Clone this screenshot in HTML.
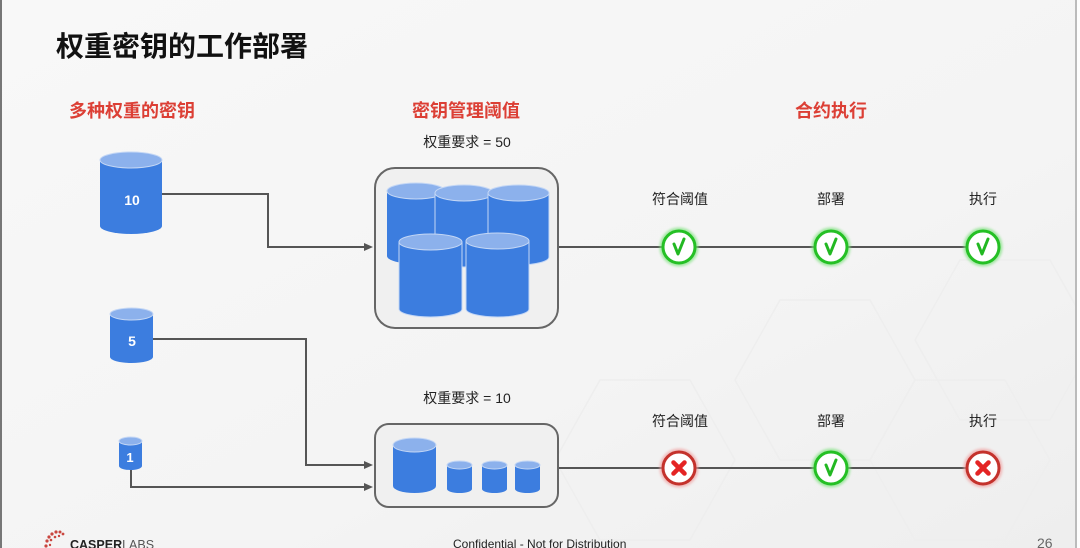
<!DOCTYPE html>
<html>
<head>
<meta charset="utf-8">
<style>
  html,body{margin:0;padding:0;}
  body{width:1080px;height:548px;overflow:hidden;background:#f5f5f5;}
  svg{display:block;}
  .cjk{font-family:"Liberation Sans","Noto Sans CJK SC",sans-serif;}
</style>
</head>
<body>
<svg width="1080" height="548" viewBox="0 0 1080 548" xmlns="http://www.w3.org/2000/svg">
  <defs>
    <linearGradient id="bg" x1="0" y1="0" x2="1" y2="1">
      <stop offset="0" stop-color="#f8f8f8"/>
      <stop offset="0.6" stop-color="#f4f4f4"/>
      <stop offset="1" stop-color="#eeeeee"/>
    </linearGradient>
    <filter id="glowG" x="-50%" y="-50%" width="200%" height="200%">
      <feGaussianBlur stdDeviation="1.2"/>
    </filter>
  </defs>
  <rect x="0" y="0" width="1080" height="548" fill="url(#bg)"/>
  <!-- faint hexagons -->
  <g fill="none" stroke="#eeeeee" stroke-width="1.5">
    <polygon points="780,300 870,300 915,380 870,460 780,460 735,380"/>
    <polygon points="915,380 1005,380 1050,460 1005,540 915,540 870,460"/>
    <polygon points="600,380 690,380 735,460 690,540 600,540 555,460"/>
    <polygon points="960,260 1050,260 1095,340 1050,420 960,420 915,340"/>
  </g>
  <!-- edges -->
  <rect x="0" y="0" width="2" height="548" fill="#777"/>
  <rect x="1075" y="0" width="2" height="548" fill="#bbb"/>
  <rect x="1077" y="0" width="3" height="548" fill="#fdfdfd"/>

  <!-- Title -->
  <text x="56" y="56" class="cjk" font-size="28" font-weight="bold" fill="#111">权重密钥的工作部署</text>

  <!-- Headings -->
  <text x="69" y="117" class="cjk" font-size="18" font-weight="bold" fill="#dc3f35">多种权重的密钥</text>
  <text x="466" y="117" class="cjk" font-size="18" font-weight="bold" fill="#dc3f35" text-anchor="middle">密钥管理阈值</text>
  <text x="831" y="117" class="cjk" font-size="18" font-weight="bold" fill="#dc3f35" text-anchor="middle">合约执行</text>

  <text x="467" y="147" class="cjk" font-size="14" fill="#222" text-anchor="middle">权重要求 = 50</text>
  <text x="467" y="403" class="cjk" font-size="14" fill="#222" text-anchor="middle">权重要求 = 10</text>

  <!-- Connectors -->
  <g fill="none" stroke="#555" stroke-width="2">
    <polyline points="162,194 268,194 268,247 366,247"/>
    <polyline points="153,339 306,339 306,465 366,465"/>
    <polyline points="131,470 131,487 366,487"/>
    <line x1="558" y1="247" x2="983" y2="247"/>
    <line x1="558" y1="468" x2="983" y2="468"/>
  </g>
  <g fill="#555">
    <polygon points="373,247 364,243 364,251"/>
    <polygon points="373,465 364,461 364,469"/>
    <polygon points="373,487 364,483 364,491"/>
  </g>

  <!-- Boxes -->
  <rect x="375" y="168" width="183" height="160" rx="20" ry="20" fill="#f0f0f0" stroke="#666" stroke-width="2"/>
  <rect x="375" y="424" width="183" height="83" rx="14" ry="14" fill="#f0f0f0" stroke="#666" stroke-width="2"/>

  <!-- Cylinders -->
  <g stroke="#c4d7f5" stroke-width="1">
    <path d="M100,160 L100,226 A31,8 0 0 0 162,226 L162,160 Z" fill="#3c7ddf" stroke="none"/>
    <ellipse cx="131" cy="160" rx="31" ry="8" fill="#8cb1ec"/>
    <path d="M110,314 L110,357 A21.5,6 0 0 0 153,357 L153,314 Z" fill="#3c7ddf" stroke="none"/>
    <ellipse cx="131.5" cy="314" rx="21.5" ry="6" fill="#8cb1ec"/>
    <path d="M119,441 L119,466 A11.5,4 0 0 0 142,466 L142,441 Z" fill="#3c7ddf" stroke="none"/>
    <ellipse cx="130.5" cy="441" rx="11.5" ry="4" fill="#8cb1ec"/>

    <path d="M387,191 L387,256 A29,8 0 0 0 445,256 L445,191 Z" fill="#3c7ddf" stroke="none"/>
    <ellipse cx="416" cy="191" rx="29" ry="8" fill="#8cb1ec"/>
    <path d="M435,193 L435,259 A29,8 0 0 0 493,259 L493,193 Z" fill="#3c7ddf" stroke="#c4d7f5"/>
    <ellipse cx="464" cy="193" rx="29" ry="8" fill="#8cb1ec"/>
    <path d="M488,193 L488,257 A30.5,8 0 0 0 549,257 L549,193 Z" fill="#3c7ddf" stroke="#c4d7f5"/>
    <ellipse cx="518.5" cy="193" rx="30.5" ry="8" fill="#8cb1ec"/>
    <path d="M399,242 L399,309 A31.5,8 0 0 0 462,309 L462,242 Z" fill="#3c7ddf" stroke="#c4d7f5"/>
    <ellipse cx="430.5" cy="242" rx="31.5" ry="8" fill="#8cb1ec"/>
    <path d="M466,241 L466,309 A31.5,8 0 0 0 529,309 L529,241 Z" fill="#3c7ddf" stroke="#c4d7f5"/>
    <ellipse cx="497.5" cy="241" rx="31.5" ry="8" fill="#8cb1ec"/>

    <path d="M393,445 L393,486 A21.5,7 0 0 0 436,486 L436,445 Z" fill="#3c7ddf" stroke="none"/>
    <ellipse cx="414.5" cy="445" rx="21.5" ry="7" fill="#8cb1ec"/>
    <path d="M447,465 L447,489 A12.5,4 0 0 0 472,489 L472,465 Z" fill="#3c7ddf" stroke="none"/>
    <ellipse cx="459.5" cy="465" rx="12.5" ry="4" fill="#8cb1ec"/>
    <path d="M482,465 L482,489 A12.5,4 0 0 0 507,489 L507,465 Z" fill="#3c7ddf" stroke="none"/>
    <ellipse cx="494.5" cy="465" rx="12.5" ry="4" fill="#8cb1ec"/>
    <path d="M515,465 L515,489 A12.5,4 0 0 0 540,489 L540,465 Z" fill="#3c7ddf" stroke="none"/>
    <ellipse cx="527.5" cy="465" rx="12.5" ry="4" fill="#8cb1ec"/>
  </g>
  <g font-family="Liberation Sans, sans-serif" font-weight="bold" fill="#fff" text-anchor="middle">
    <text x="132" y="205" font-size="14">10</text>
    <text x="132" y="346" font-size="14">5</text>
    <text x="130" y="462" font-size="13">1</text>
  </g>

  <!-- Step labels -->
  <g class="cjk" font-size="14" fill="#222" text-anchor="middle">
    <text x="680" y="204">符合阈值</text>
    <text x="831" y="204">部署</text>
    <text x="983" y="204">执行</text>
    <text x="680" y="426">符合阈值</text>
    <text x="831" y="426">部署</text>
    <text x="983" y="426">执行</text>
  </g>

  <!-- Status circles -->
  <g>
    <g transform="translate(679,247)">
      <circle r="17" fill="none" stroke="#7fe27f" stroke-width="5" filter="url(#glowG)" opacity="0.7"/>
      <circle r="16" fill="#fff" stroke="#25c025" stroke-width="3"/>
      <path d="M-5,-3 L-1,7 L5,-8" fill="none" stroke="#22b822" stroke-width="3" stroke-linecap="round" stroke-linejoin="round"/>
    </g>
    <g transform="translate(831,247)">
      <circle r="17" fill="none" stroke="#7fe27f" stroke-width="5" filter="url(#glowG)" opacity="0.7"/>
      <circle r="16" fill="#fff" stroke="#25c025" stroke-width="3"/>
      <path d="M-5,-3 L-1,7 L5,-8" fill="none" stroke="#22b822" stroke-width="3" stroke-linecap="round" stroke-linejoin="round"/>
    </g>
    <g transform="translate(983,247)">
      <circle r="17" fill="none" stroke="#7fe27f" stroke-width="5" filter="url(#glowG)" opacity="0.7"/>
      <circle r="16" fill="#fff" stroke="#25c025" stroke-width="3"/>
      <path d="M-5,-3 L-1,7 L5,-8" fill="none" stroke="#22b822" stroke-width="3" stroke-linecap="round" stroke-linejoin="round"/>
    </g>
    <g transform="translate(831,468)">
      <circle r="17" fill="none" stroke="#7fe27f" stroke-width="5" filter="url(#glowG)" opacity="0.7"/>
      <circle r="16" fill="#fff" stroke="#25c025" stroke-width="3"/>
      <path d="M-5,-3 L-1,7 L5,-8" fill="none" stroke="#22b822" stroke-width="3" stroke-linecap="round" stroke-linejoin="round"/>
    </g>
    <g transform="translate(679,468)">
      <circle r="17" fill="none" stroke="#f0a0a0" stroke-width="5" filter="url(#glowG)" opacity="0.7"/>
      <circle r="16" fill="#fff" stroke="#c4322c" stroke-width="3"/>
      <path d="M-5.5,-5.5 L5.5,5.5 M5.5,-5.5 L-5.5,5.5" fill="none" stroke="#e42424" stroke-width="4.5" stroke-linecap="round"/>
    </g>
    <g transform="translate(983,468)">
      <circle r="17" fill="none" stroke="#f0a0a0" stroke-width="5" filter="url(#glowG)" opacity="0.7"/>
      <circle r="16" fill="#fff" stroke="#c4322c" stroke-width="3"/>
      <path d="M-5.5,-5.5 L5.5,5.5 M5.5,-5.5 L-5.5,5.5" fill="none" stroke="#e42424" stroke-width="4.5" stroke-linecap="round"/>
    </g>
  </g>

  <!-- Footer -->
  <g fill="#c9463f">
    <circle cx="46" cy="546" r="1.6"/>
    <circle cx="47" cy="541" r="1.6"/>
    <circle cx="49" cy="537" r="1.6"/>
    <circle cx="52" cy="534" r="1.6"/>
    <circle cx="56" cy="532" r="1.6"/>
    <circle cx="60" cy="532" r="1.5"/>
    <circle cx="63" cy="534" r="1.4"/>
    <circle cx="51" cy="540" r="1.3"/>
    <circle cx="55" cy="537" r="1.3"/>
    <circle cx="59" cy="536" r="1.2"/>
    <circle cx="50" cy="545" r="1.2"/>
  </g>
  <text x="70" y="549" font-family="Liberation Sans, sans-serif" font-size="12.5"><tspan font-weight="bold" fill="#222">CASPER</tspan><tspan fill="#555">LABS</tspan></text>
  <text x="453" y="548" font-family="Liberation Sans, sans-serif" font-size="12" fill="#222">Confidential - Not for Distribution</text>
  <text x="1037" y="548" font-family="Liberation Sans, sans-serif" font-size="14" fill="#666">26</text>
</svg>
</body>
</html>
